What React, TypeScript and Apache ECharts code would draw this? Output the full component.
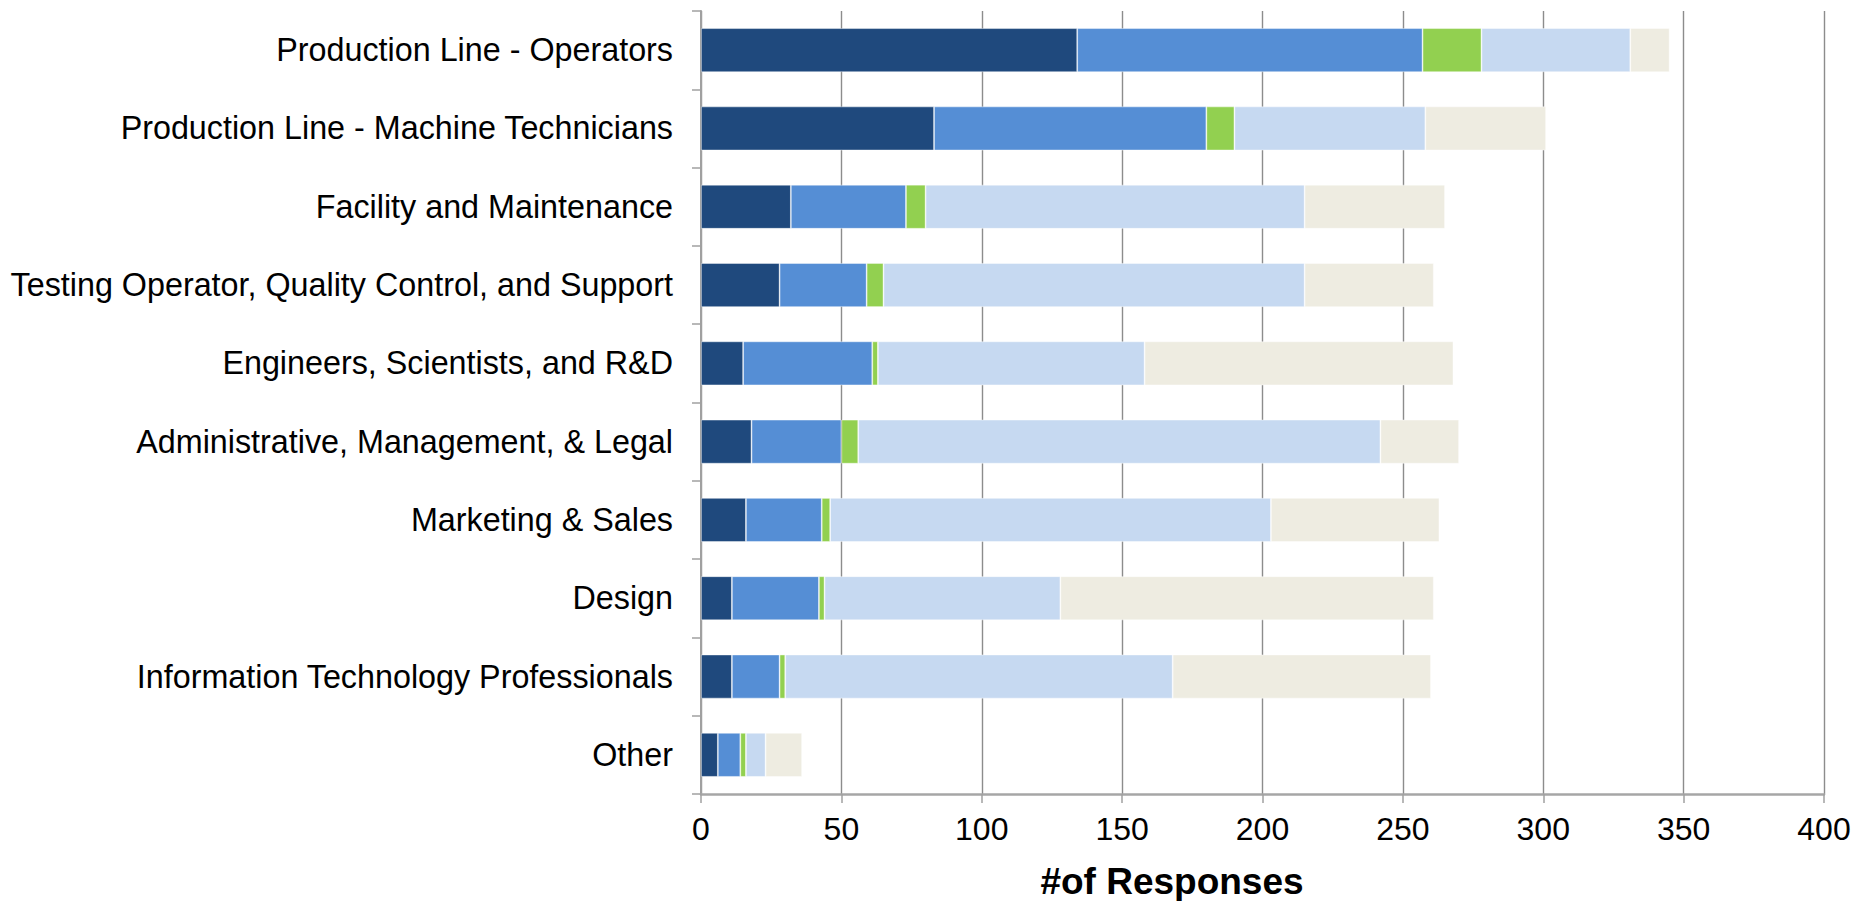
import React, { useEffect, useRef } from "react";
import * as echarts from "echarts";

const categories = [
  "Production Line - Operators",
  "Production Line - Machine Technicians",
  "Facility and Maintenance",
  "Testing Operator, Quality Control, and Support",
  "Engineers, Scientists, and R&D",
  "Administrative, Management, & Legal",
  "Marketing & Sales",
  "Design",
  "Information Technology Professionals",
  "Other",
];

const seriesNames = ["Series 1", "Series 2", "Series 3", "Series 4", "Series 5"];
const series1 = [134, 83, 32, 28, 15, 18, 16, 11, 11, 6];
const series2 = [123, 97, 41, 31, 46, 32, 27, 31, 17, 8];
const series3 = [21, 10, 7, 6, 2, 6, 3, 2, 2, 2];
const series4 = [53, 68, 135, 150, 95, 186, 157, 84, 138, 7];
const series5 = [14, 43, 50, 46, 110, 28, 60, 133, 92, 13];
const seriesColors = ["#1F497D", "#558ED5", "#92D050", "#C6D9F1", "#EEECE1"];

const xTicks = { min: 0, max: 400, interval: 50 };
const axisTitle = "#of Responses";

const FONT = "'Liberation Sans', Arial, sans-serif";

export default function App() {
  const ref = useRef<HTMLDivElement>(null);
  useEffect(() => {
    if (!ref.current) return;
    const chart = echarts.init(ref.current, null, { renderer: "svg" });
    const allData = [series1, series2, series3, series4, series5];
    chart.setOption({
      animation: false,
      backgroundColor: "#ffffff",
      grid: { left: 701, top: 11, right: 32, bottom: 107, containLabel: false },
      xAxis: {
        type: "value",
        min: xTicks.min,
        max: xTicks.max,
        interval: xTicks.interval,
        axisLine: { show: true, lineStyle: { color: "#a6a6a6", width: 2.5 } },
        axisTick: { show: true, length: 9, lineStyle: { color: "#a0a0a0", width: 1.5 } },
        axisLabel: { color: "#000", fontFamily: FONT, fontSize: 32, margin: 19 },
        splitLine: { show: true, lineStyle: { color: "#8c8c8c", width: 1.4 } },
      },
      yAxis: {
        type: "category",
        data: categories,
        inverse: true,
        axisLine: { show: true, lineStyle: { color: "#a0a0a0", width: 2 } },
        axisTick: { show: true, length: 9, lineStyle: { color: "#a0a0a0", width: 1.5 } },
        axisLabel: { color: "#000", fontFamily: FONT, fontSize: 32.3, margin: 28 },
        splitLine: { show: false },
      },
      series: allData.map((d, i) => ({
        name: seriesNames[i],
        type: "bar",
        stack: "total",
        data: d,
        barWidth: 44,
        itemStyle: {
          color: seriesColors[i],
          borderColor: "rgba(255,255,255,0.55)",
          borderWidth: 0.8,
        },
      })),
      graphic: [
        {
          type: "text",
          x: 1172,
          y: 881,
          style: {
            text: axisTitle,
            fontFamily: FONT,
            fontSize: 37,
            fontWeight: "bold",
            fill: "#000",
            align: "center",
            verticalAlign: "middle",
          },
        },
      ],
    });
    return () => chart.dispose();
  }, []);
  return (
    <div
      ref={ref}
      style={{ position: "absolute", left: 0, top: 0, width: 1856, height: 901 }}
    />
  );
}
